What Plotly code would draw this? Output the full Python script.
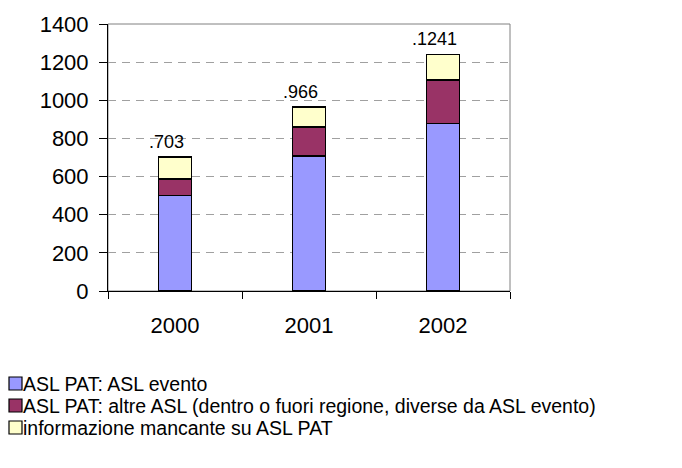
import plotly.graph_objects as go

# data
YEARS = ["2000", "2001", "2002"]
ASL_EVENTO = [500, 708, 879]
ALTRE_ASL = [87, 153, 226]
MANCANTE = [116, 105, 136]
TOTALS = [703, 966, 1241]
TOTAL_LABELS = [".703", ".966", ".1241"]

SERIES_NAMES = [
    "ASL PAT: ASL evento",
    "ASL PAT: altre ASL (dentro o fuori regione, diverse da ASL evento)",
    "informazione mancante su ASL PAT",
]
COLORS = ["#9999FF", "#993366", "#FFFFCC"]

FONT = "Liberation Sans, Arial, sans-serif"
W, H = 682, 468
OFF = 8  # page body margin shifts the figure by this much
L, T = 108 - OFF, 24 - OFF
R, B = W - (510 - OFF), H - (291 - OFF)
PW, PH = W - L - R, H - T - B


def px_x(x):
    return (x - OFF - L) / PW


def px_y(y):
    return (H - B - (y - OFF)) / PH


fig = go.Figure()
for name, vals, col in zip(SERIES_NAMES, [ASL_EVENTO, ALTRE_ASL, MANCANTE], COLORS):
    fig.add_trace(
        go.Bar(
            x=YEARS,
            y=vals,
            name=name,
            marker=dict(color=col, line=dict(color="#000000", width=1.6)),
            showlegend=False,
        )
    )

annotations = []
# total labels above the stacks (category index on the x axis)
for i, (tot, lab) in enumerate(zip(TOTALS, TOTAL_LABELS)):
    annotations.append(dict(x=i, y=tot, text=lab, xref="x", yref="y",
                            xanchor="center", yanchor="bottom", xshift=-9, yshift=3,
                            showarrow=False,
                            font=dict(family=FONT, size=18, color="#000000")))

# hand-made legend (Excel style, bottom left)
shapes = [
    dict(type="rect", xref="paper", yref="paper", x0=0, x1=1, y0=0, y1=1,
         line=dict(color="#808080", width=1), layer="below"),
]
row_y = [383.5, 405.5, 427.5]
for ry, name, col in zip(row_y, SERIES_NAMES, COLORS):
    shapes.append(dict(type="rect", xref="paper", yref="paper",
                       x0=px_x(9), x1=px_x(22), y0=px_y(ry + 6.5), y1=px_y(ry - 6.5),
                       fillcolor=col, line=dict(color="#000000", width=1.2)))
    annotations.append(dict(text=name, xref="paper", yref="paper",
                            x=px_x(22), y=px_y(ry), xanchor="left", yanchor="middle",
                            showarrow=False, borderpad=0,
                            font=dict(family=FONT, size=19.5, color="#000000")))

fig.update_layout(
    barmode="stack",
    bargap=0.755,
    width=W,
    height=H,
    margin=dict(l=L, r=R, t=T, b=B, pad=0, autoexpand=False),
    paper_bgcolor="#FFFFFF",
    plot_bgcolor="#FFFFFF",
    font=dict(family=FONT, size=22, color="#000000"),
    shapes=shapes,
    annotations=annotations,
    showlegend=False,
)
fig.update_yaxes(
    range=[0, 1400],
    dtick=200,
    showgrid=True,
    gridcolor="#A0A0A0",
    griddash="8px,6px",
    gridwidth=1,
    zeroline=False,
    showline=True,
    linecolor="#000000",
    linewidth=1,
    ticks="outside",
    ticklen=8,
    tickcolor="#000000",
    ticklabelstandoff=6,
)
fig.update_xaxes(
    type="category",
    range=[-0.5, 2.5],
    showline=True,
    linecolor="#000000",
    linewidth=1,
    ticks="outside",
    tickson="boundaries",
    ticklen=7,
    tickcolor="#000000",
    ticklabelstandoff=15,
    tickangle=0,
    showgrid=False,
)

fig.write_html("out.html")
